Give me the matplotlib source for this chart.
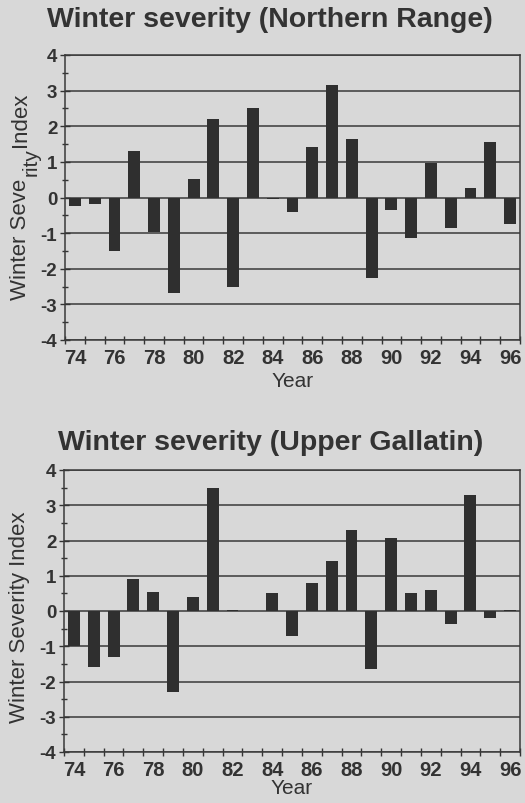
import matplotlib
matplotlib.use("Agg")
import matplotlib.pyplot as plt
import numpy as np

years = list(range(74, 97))
year_labels = [str(y) for y in range(74, 97, 2)]

northern_range = [-0.25, -0.18, -1.5, 1.3, -0.97, -2.68, 0.52, 2.2, -2.5, 2.5,
                  -0.05, -0.42, 1.43, 3.15, 1.64, -2.25, -0.35, -1.15, 0.96,
                  -0.85, 0.27, 1.57, -0.75]
upper_gallatin = [-0.98, -1.6, -1.3, 0.92, 0.54, -2.3, 0.4, 3.5, 0.02, 0.01,
                  0.5, -0.72, 0.8, 1.41, 2.29, -1.65, 2.08, 0.5, 0.6, -0.38,
                  3.3, -0.19, 0.02]

titles = ["Winter severity (Northern Range)", "Winter severity (Upper Gallatin)"]
xlabel = "Year"

BG = "#d8d8d8"
INK = "#333333"
BAR = "#2f2f2f"

plt.rcParams['font.family'] = ['Liberation Sans', 'DejaVu Sans']

fig = plt.figure(figsize=(5.25, 8.04), dpi=100, facecolor=BG)

W, H = 525.0, 804.0
def box(l, t, r, b):
    return [l / W, 1 - b / H, (r - l) / W, (b - t) / H]

ax1 = fig.add_axes(box(65, 56, 520, 341))
ax2 = fig.add_axes(box(64, 471, 520, 753))

for ax, vals, lp in ((ax1, northern_range, 3), (ax2, upper_gallatin, -1)):
    ax.set_facecolor(BG)
    ax.bar(years, vals, width=0.6, color=BAR, zorder=3)
    ax.set_xlim(73.5, 96.5)
    ax.set_ylim(-4, 4)
    ax.set_yticks(range(-4, 5))
    ax.set_yticks(np.arange(-4, 4.01, 0.5), minor=True)
    ax.set_xticks(range(74, 97, 2))
    ax.set_xticklabels(year_labels, fontweight='bold')
    ax.set_yticklabels([str(v) for v in range(-4, 5)], fontweight='bold')
    ax.set_xticks(np.arange(73.5, 96.6, 1), minor=True)
    ax.grid(axis='y', which='major', color='#3a3a3a', lw=1.1, zorder=1)
    ax.tick_params(axis='x', which='major', length=0, pad=6, labelsize=14.5, colors=INK)
    ax.tick_params(axis='x', which='minor', length=6, direction='inout', color=INK, width=1)
    ax.tick_params(axis='y', which='major', length=7, direction='inout', pad=2,
                   labelsize=13.5, colors=INK, width=1)
    ax.tick_params(axis='y', which='minor', length=5, direction='inout', color=INK, width=1)
    for s in ax.spines.values():
        s.set_color('#3a3a3a')
        s.set_linewidth(1.1)
    ax.set_xlabel(xlabel, fontsize=15, color=INK, labelpad=lp)

# titles
fig.text(270 / W, 1 - 20 / H, titles[0], ha='center', va='center',
         fontsize=20.5, fontweight='bold', color=INK)
fig.text(271 / W, 1 - 443 / H, titles[1], ha='center', va='center',
         fontsize=20.5, fontweight='bold', color=INK)

# y labels
fig.text(20 / W, 1 - 239 / H, "Winter Seve", rotation=90, ha='center', va='center',
         fontsize=16, color=INK)
fig.text(31 / W, 1 - 162 / H, "rity", rotation=90, ha='center', va='center',
         fontsize=15, color=INK)
fig.text(20 / W, 1 - 120 / H, "Index", rotation=90, ha='center', va='center',
         fontsize=16, color=INK)
fig.text(20 / W, 1 - 617 / H, "Winter Severity Index", rotation=90, ha='center',
         va='center', fontsize=16, color=INK)

fig.savefig("out.png", dpi=100, facecolor=BG)
